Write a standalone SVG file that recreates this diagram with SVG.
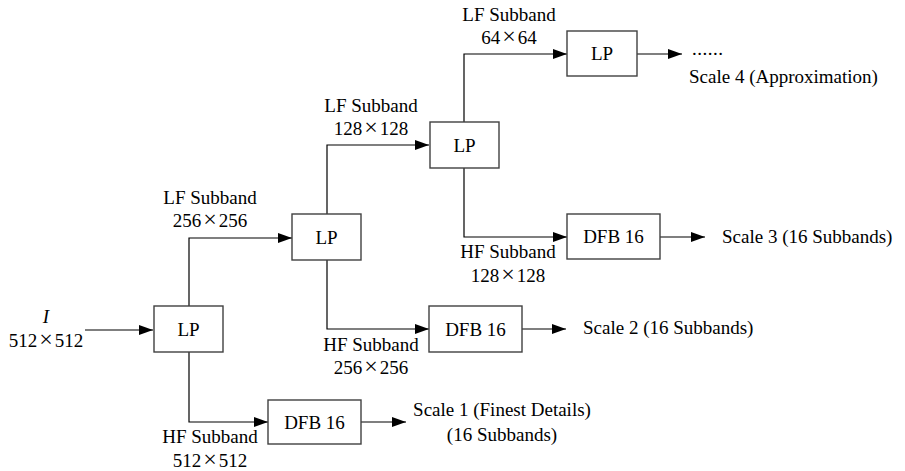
<svg xmlns="http://www.w3.org/2000/svg" width="905" height="471" viewBox="0 0 905 471">
  <style>
    text { font-family: "Liberation Serif", "Times New Roman", serif; font-size: 19px; fill: #000; }
    .c { text-anchor: middle; }
    .box { fill: #fff; stroke: #404040; stroke-width: 1.4; }
    .wire { fill: none; stroke: #000; stroke-width: 1.2; }
    .x { font-size: 24px; font-weight: 300; }
  </style>
  <defs>
    <marker id="arr" viewBox="0 0 14 10" refX="14" refY="5" markerWidth="14" markerHeight="10" markerUnits="userSpaceOnUse" orient="auto">
      <path d="M0,0 L14,5 L0,10 Z" fill="#000"/>
    </marker>
  </defs>

  <!-- connectors -->
  <g id="connectors">
    <path class="wire" d="M85,330 H153" marker-end="url(#arr)"/>
    <path class="wire" d="M189,306 V238 H292" marker-end="url(#arr)"/>
    <path class="wire" d="M189,352 V422 H268" marker-end="url(#arr)"/>
    <path class="wire" d="M361,422 H406" marker-end="url(#arr)"/>
    <path class="wire" d="M327,214 V145 H429" marker-end="url(#arr)"/>
    <path class="wire" d="M327,260 V329 H429" marker-end="url(#arr)"/>
    <path class="wire" d="M522,329 H566" marker-end="url(#arr)"/>
    <path class="wire" d="M464,122 V54 H567" marker-end="url(#arr)"/>
    <path class="wire" d="M464,168 V237 H567" marker-end="url(#arr)"/>
    <path class="wire" d="M637,54 H682" marker-end="url(#arr)"/>
    <path class="wire" d="M660,237 H705" marker-end="url(#arr)"/>
  </g>

  <!-- filter nodes -->
  <g id="lp1"><rect class="box" x="154" y="306" width="69" height="46"/><text class="c" x="188.5" y="336">LP</text></g>
  <g id="lp2"><rect class="box" x="292" y="214" width="69" height="46"/><text class="c" x="326.5" y="244">LP</text></g>
  <g id="lp3"><rect class="box" x="430" y="122" width="69" height="46"/><text class="c" x="464.5" y="152">LP</text></g>
  <g id="lp4"><rect class="box" x="567" y="31" width="70" height="45"/><text class="c" x="602" y="60">LP</text></g>
  <g id="dfb1"><rect class="box" x="268" y="400" width="93" height="44"/><text class="c" x="314.5" y="429">DFB 16</text></g>
  <g id="dfb2"><rect class="box" x="429" y="306" width="93" height="46"/><text class="c" x="475.5" y="336">DFB 16</text></g>
  <g id="dfb3"><rect class="box" x="567" y="214" width="93" height="45"/><text class="c" x="613.5" y="243">DFB 16</text></g>

  <!-- labels -->
  <g id="labels">
    <text class="c" x="46" y="323" font-style="italic">I</text>
    <text class="c" x="46" y="347">512<tspan class="x" dx="2">×</tspan><tspan dx="2">512</tspan></text>

    <text class="c" x="210" y="443">HF Subband</text>
    <text class="c" x="210" y="467">512<tspan class="x" dx="2">×</tspan><tspan dx="2">512</tspan></text>

    <text class="c" x="210" y="204">LF Subband</text>
    <text class="c" x="210" y="227">256<tspan class="x" dx="2">×</tspan><tspan dx="2">256</tspan></text>

    <text class="c" x="371" y="351">HF Subband</text>
    <text class="c" x="371" y="374">256<tspan class="x" dx="2">×</tspan><tspan dx="2">256</tspan></text>

    <text class="c" x="371" y="112">LF Subband</text>
    <text class="c" x="371" y="135">128<tspan class="x" dx="2">×</tspan><tspan dx="2">128</tspan></text>

    <text class="c" x="508" y="258">HF Subband</text>
    <text class="c" x="508" y="282">128<tspan class="x" dx="2">×</tspan><tspan dx="2">128</tspan></text>

    <text class="c" x="509" y="21">LF Subband</text>
    <text class="c" x="509" y="44">64<tspan class="x" dx="2">×</tspan><tspan dx="2">64</tspan></text>

    <text x="692" y="55" letter-spacing="0.5">......</text>
    <text x="689" y="83">Scale 4 (Approximation)</text>
    <text x="722" y="243">Scale 3 (16 Subbands)</text>
    <text x="583" y="334">Scale 2 (16 Subbands)</text>
    <text class="c" x="502" y="416">Scale 1 (Finest Details)</text>
    <text class="c" x="502" y="441">(16 Subbands)</text>
  </g>
</svg>
